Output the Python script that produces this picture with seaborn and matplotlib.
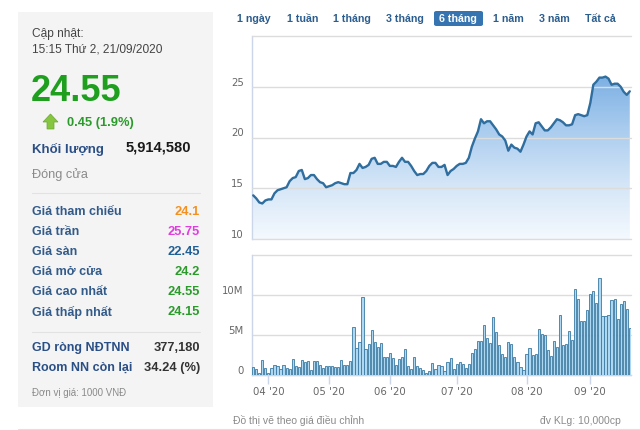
import numpy as np
import pandas as pd
import matplotlib
matplotlib.use("Agg")
import matplotlib.pyplot as plt
import seaborn as sns
from matplotlib.patches import Rectangle, Polygon, FancyBboxPatch
from matplotlib.colors import LinearSegmentedColormap
from matplotlib.lines import Line2D

# ---------------- data ----------------
price = [
    14.3, 14.0, 13.6, 13.5, 13.8, 13.9, 13.9, 14.5, 14.8, 14.9,
    15.0, 15.1, 15.7, 16.0, 16.1, 16.7, 16.8, 15.9, 16.0, 16.3,
    16.3, 15.9, 15.6, 15.5, 15.1, 15.2, 15.3, 15.5, 15.6, 15.5,
    15.4, 15.4, 16.5, 16.5, 16.8, 17.4, 17.0, 17.1, 17.3, 17.9,
    18.0, 17.4, 17.4, 17.6, 17.6, 17.2, 17.2, 17.1, 17.6, 18.0,
    17.6, 17.6, 17.2, 16.7, 16.3, 16.4, 16.4, 16.7, 17.2, 17.5,
    17.5, 17.1, 17.1, 17.3, 16.3, 16.7, 16.9, 17.2, 17.4, 17.4,
    17.5, 18.0, 19.1, 19.9, 20.6, 21.8, 21.4, 21.6, 21.6, 21.2,
    20.8, 20.3, 20.1, 19.7, 18.7, 19.3, 19.0, 18.9, 18.6, 19.3,
    20.1, 20.6, 20.3, 21.4, 21.5, 21.1, 20.7, 20.7, 21.0, 21.4,
    21.8, 21.7, 21.5, 21.2, 21.2, 21.3, 22.2, 22.3, 22.2, 22.1,
    22.2, 23.4, 25.2, 25.5, 25.9, 25.9, 26.0, 25.8, 25.2, 25.3,
    25.3, 25.0, 24.5, 24.2, 24.55,
]
volume_m = [
    1.0, 0.7, 0.2, 1.9, 0.9, 0.3, 0.9, 1.2, 1.1, 0.7,
    1.2, 0.9, 0.8, 2.0, 1.1, 1.0, 1.9, 1.6, 1.7, 0.6,
    1.7, 1.7, 1.2, 0.9, 1.1, 1.1, 1.1, 1.0, 1.0, 1.9,
    1.3, 1.3, 1.7, 6.0, 3.4, 4.1, 9.7, 3.2, 3.9, 5.6,
    4.1, 3.5, 4.0, 2.2, 2.3, 2.7, 2.1, 1.2, 2.0, 2.3,
    3.3, 1.1, 0.7, 2.3, 1.1, 0.9, 0.6, 0.2, 0.5, 1.5,
    0.8, 1.2, 1.1, 0.5, 1.6, 2.1, 0.7, 1.4, 1.6, 1.4,
    0.9, 1.4, 2.7, 3.3, 4.3, 4.3, 6.2, 4.6, 4.0, 7.3,
    5.4, 3.7, 2.6, 2.2, 4.1, 3.9, 2.2, 1.6, 1.0, 0.6,
    2.6, 3.4, 2.5, 2.6, 5.8, 5.1, 5.0, 3.1, 2.4, 4.2,
    3.5, 7.5, 3.8, 3.9, 5.5, 4.4, 10.7, 9.5, 6.7, 6.7,
    8.1, 10.1, 10.5, 9.0, 12.1, 7.4, 7.4, 7.5, 9.4, 9.5,
    7.0, 8.9, 9.2, 8.3, 5.91,
]
holidays = ["2020-04-02", "2020-04-30", "2020-05-01", "2020-09-02"]
price_ticks = [10, 15, 20, 25, 30]
price_tick_labels = ["10", "15", "20", "25", ""]
vol_ticks = [0, 5, 10, 15]
vol_tick_labels = ["0", "5M", "10M", ""]
tabs = ["1 ngày", "1 tuần", "1 tháng", "3 tháng", "6 tháng", "1 năm", "3 năm", "Tất cả"]
active_tab = "6 tháng"
info_labels = ["Giá tham chiếu", "Giá trần", "Giá sàn", "Giá mở cửa", "Giá cao nhất", "Giá thấp nhất"]
info_values = ["24.1", "25.75", "22.45", "24.2", "24.55", "24.15"]
foreign_labels = ["GD ròng NĐTNN", "Room NN còn lại"]
foreign_values = ["377,180", "34.24 (%)"]

# ---------------- setup ----------------
sns.set_theme(style="white")
plt.rcParams["font.family"] = ["Liberation Sans", "DejaVu Sans"]

W, H = 640, 431
fig = plt.figure(figsize=(6.4, 4.31), dpi=100)
fig.patch.set_facecolor("white")


def fx(x):
    return x / W


def fy(y):
    return 1 - y / H


def box(x0, y0, x1, y1):
    return [x0 / W, 1 - y1 / H, (x1 - x0) / W, (y1 - y0) / H]


N = len(price)
all_days = pd.bdate_range("2020-03-01", "2020-09-21")
all_days = all_days[~all_days.isin(pd.to_datetime(holidays))]
dates = all_days[-N:]
df = pd.DataFrame({"day": np.arange(N), "price": price, "vol": volume_m, "date": dates})

month_idx = [i for i in range(1, N) if dates[i].month != dates[i - 1].month]
month_lbl = [dates[i].strftime("%m '%y") for i in month_idx]

xmin, xmax = -0.4, N - 0.6
tick_font = dict(family="DejaVu Sans", size=7.3, color="#666666")
grid_color = "#dcdcdc"

# ---------------- left info panel ----------------
fig.patches.append(Rectangle((fx(18), fy(408)), (213 - 18) / W, (408 - 13) / H,
                             transform=fig.transFigure, facecolor="#f4f4f4",
                             edgecolor="none", zorder=0))
for yy in (194, 333):
    fig.lines.append(Line2D([fx(32), fx(200)], [fy(yy), fy(yy)], transform=fig.transFigure,
                            color="#e2e2e2", lw=0.8))
fig.lines.append(Line2D([fx(18), fx(640)], [fy(429.5), fy(429.5)], transform=fig.transFigure,
                        color="#e0e0e0", lw=0.8))

fig.text(fx(32), fy(34), "Cập nhật:", fontsize=8.6, color="#444444", va="center")
fig.text(fx(32), fy(49), "15:15 Thứ 2, 21/09/2020", fontsize=8.6, color="#444444", va="center")
fig.text(fx(31), fy(92), "24.55", fontsize=26, fontweight="bold", color="#1ea01e", va="center")

# up arrow
arrow = Polygon([(fx(43), fy(123)), (fx(50.5), fy(115)), (fx(58), fy(123)), (fx(54), fy(123)),
                 (fx(54), fy(130)), (fx(47), fy(130)), (fx(47), fy(123))],
                closed=True, transform=fig.transFigure, facecolor="#86c540",
                edgecolor="#6aa830", lw=0.5)
fig.patches.append(arrow)
fig.text(fx(67), fy(123), "0.45 (1.9%)", fontsize=9.3, fontweight="bold", color="#2a9a2a", va="center")

fig.text(fx(32), fy(149), "Khối lượng", fontsize=9.5, fontweight="bold", color="#2a4f86", va="center")
fig.text(fx(191), fy(147), "5,914,580", fontsize=10.6, fontweight="bold", color="#1a1a1a",
         va="center", ha="right")
fig.text(fx(32), fy(175), "Đóng cửa", fontsize=9.2, color="#8a8a8a", va="center")

info_colors = ["#f5901e", "#e03ce0", "#1f5f95", "#2a9a2a", "#2a9a2a", "#2a9a2a"]
for k, (lab, val) in enumerate(zip(info_labels, info_values)):
    yy = 212 + 20 * k
    fig.text(fx(32), fy(yy), lab, fontsize=9.0, fontweight="bold", color="#335b8a", va="center")
    fig.text(fx(200), fy(yy), val, fontsize=9.3, fontweight="bold", color=info_colors[k],
             va="center", ha="right")

for k, (lab, val) in enumerate(zip(foreign_labels, foreign_values)):
    yy = 348 + 20 * k
    fig.text(fx(32), fy(yy), lab, fontsize=9.0, fontweight="bold", color="#2a4f86", va="center")
    fig.text(fx(200), fy(yy), val, fontsize=9.3, fontweight="bold", color="#333333",
             va="center", ha="right")
fig.text(fx(32), fy(393), "Đơn vị giá: 1000 VNĐ", fontsize=7.0, color="#8a8a8a", va="center")

# ---------------- range selector tabs ----------------
tab_x = [254, 303, 352, 405, 458, 508, 554, 600]
for t, xx in zip(tabs, tab_x):
    if t == active_tab:
        fig.patches.append(FancyBboxPatch((fx(434), fy(27)), 49 / W, 15 / H,
                                          boxstyle="round,pad=0,rounding_size=0.004",
                                          transform=fig.transFigure, facecolor="#3574b0",
                                          edgecolor="none"))
        fig.text(fx(xx), fy(19.5), t, fontsize=7.7, fontweight="bold", color="white",
                 ha="center", va="center")
    else:
        fig.text(fx(xx), fy(19.5), t, fontsize=7.7, fontweight="bold", color="#2c5d8f",
                 ha="center", va="center")

# ---------------- price chart ----------------
axp = fig.add_axes(box(252, 37, 631, 240))
axp.set_facecolor("none")
sns.lineplot(data=df, x="day", y="price", ax=axp, color="#2f6e9e", lw=1.7, zorder=3)
fill = axp.fill_between(df["day"], df["price"], 10, color="none", lw=0)
grad = np.linspace(0, 1, 256).reshape(-1, 1)
cmap = LinearSegmentedColormap.from_list("g", ["#f4f9fe", "#d3e5f7", "#a8cbee", "#78ade3"])
im = axp.imshow(grad, aspect="auto", cmap=cmap, extent=[xmin, xmax, 10, 26.5],
                origin="lower", zorder=1, interpolation="bilinear")
im.set_clip_path(fill.get_paths()[0], transform=axp.transData)
axp.set_xlim(xmin, xmax)
axp.set_ylim(10, 30)
axp.set_yticks(price_ticks)
axp.set_yticklabels(price_tick_labels, **tick_font)
for lbl in axp.get_yticklabels():
    lbl.set_verticalalignment("bottom")
axp.set_xticks([])
axp.set_xlabel("")
axp.set_ylabel("")
axp.set_axisbelow(False)
axp.grid(axis="y", color=grid_color, lw=1, zorder=2)
for gl in axp.get_ygridlines():
    gl.set_clip_on(False)
axp.tick_params(axis="y", length=0, pad=6)
for s in ["top", "right", "bottom"]:
    axp.spines[s].set_visible(False)
axp.spines["left"].set_color("#ccd6eb")
axp.spines["left"].set_linewidth(1)

# ---------------- volume chart ----------------
axv = fig.add_axes(box(252, 256, 631, 376))
axv.set_facecolor("none")
sns.barplot(data=df, x="day", y="vol", ax=axv, color="#aed7f2", edgecolor="#3b7aa2",
            linewidth=0.6, width=0.72, saturation=1, native_scale=True, errorbar=None, zorder=3)
axv.set_xlim(xmin, xmax)
axv.set_ylim(0, 15)
axv.set_yticks(vol_ticks)
axv.set_yticklabels(vol_tick_labels, **tick_font)
for lbl in axv.get_yticklabels():
    lbl.set_verticalalignment("bottom")
axv.set_xticks(month_idx)
axv.set_xticklabels(month_lbl, **tick_font)
axv.set_xlabel("")
axv.set_ylabel("")
axv.set_axisbelow(True)
axv.grid(axis="y", color=grid_color, lw=1)
axv.grid(axis="x", visible=False)
for gl in axv.get_ygridlines():
    gl.set_clip_on(False)
axv.tick_params(axis="y", length=0, pad=6)
axv.tick_params(axis="x", length=6.5, width=1, color="#ccd6eb", pad=1.5, direction="out", bottom=True)
for s in ["top", "right"]:
    axv.spines[s].set_visible(False)
for s in ["left", "bottom"]:
    axv.spines[s].set_color("#ccd6eb")
    axv.spines[s].set_linewidth(1)

# ---------------- footer ----------------
fig.text(fx(233), fy(421), "Đồ thị vẽ theo giá điều chỉnh", fontsize=7.5, color="#8a8a8a", va="center")
fig.text(fx(621), fy(421), "đv KLg: 10,000cp", fontsize=7.5, color="#8a8a8a", va="center", ha="right")

fig.savefig("out.png", dpi=100)
